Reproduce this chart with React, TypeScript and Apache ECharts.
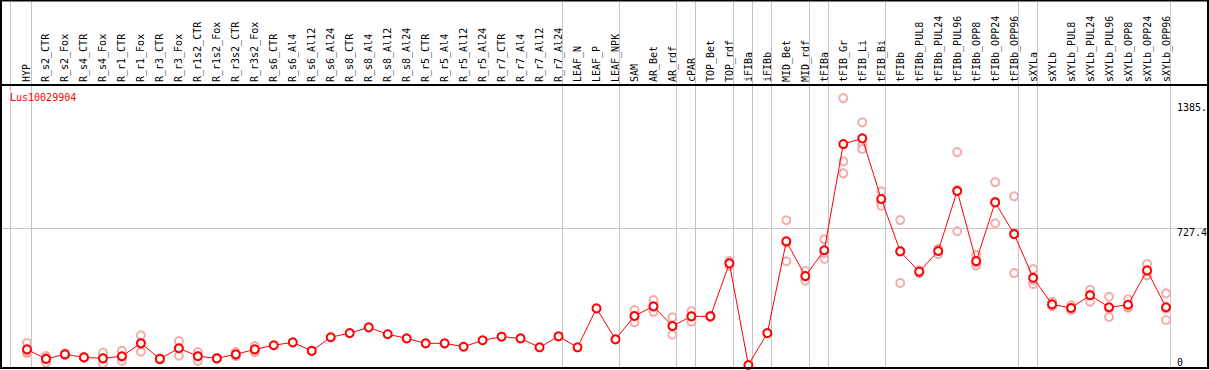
import React, { useEffect, useRef } from "react";
import * as echarts from "echarts";

const categories = [
  "HYP", "R_s2_CTR", "R_s2_Fox", "R_s4_CTR", "R_s4_Fox", "R_r1_CTR", "R_r1_Fox", "R_r3_CTR", "R_r3_Fox",
  "R_r1s2_CTR", "R_r1s2_Fox", "R_r3s2_CTR", "R_r3s2_Fox", "R_s6_CTR", "R_s6_Al4", "R_s6_Al12", "R_s6_Al24",
  "R_s8_CTR", "R_s8_Al4", "R_s8_Al12", "R_s8_Al24", "R_r5_CTR", "R_r5_Al4", "R_r5_Al12", "R_r5_Al24",
  "R_r7_CTR", "R_r7_Al4", "R_r7_Al12", "R_r7_Al24", "LEAF_N", "LEAF_P", "LEAF_NPK", "SAM", "AR_Bet", "AR_rdf",
  "cPAR", "TOP_Bet", "TOP_rdf", "iFIBa", "iFIBb", "MID_Bet", "MID_rdf", "tFIBa", "tFIB_Gr", "tFIB_Li", "tFIB_Bi",
  "tFIBb", "tFIBb_PUL8", "tFIBb_PUL24", "tFIBb_PUL96", "tFIBb_OPP8", "tFIBb_OPP24", "tFIBb_OPP96", "sXYLa",
  "sXYLb", "sXYLb_PUL8", "sXYLb_PUL24", "sXYLb_PUL96", "sXYLb_OPP8", "sXYLb_OPP24", "sXYLb_OPP96",
];

const means = [
  90, 40, 64, 48, 43, 54, 122, 40, 96, 54, 43, 64, 90, 112, 127, 82, 154, 176, 206, 170, 148, 122, 122, 104,
  138, 157, 148, 101, 159, 101, 306, 143, 266, 317, 213, 264, 264, 543, 8, 176, 659, 476, 612, 1171, 1201, 882,
  606, 499, 608, 924, 555, 864, 697, 467, 327, 308, 375, 312, 325, 506, 312,
];

const replicates: number[][] = [
  [124, 70, 78], [55, 20, 43], [60, 64, 69], [46, 48, 51], [73, 15, 42], [82, 29, 51], [164, 78, 124],
  [36, 40, 42], [134, 57, 96], [76, 29, 56], [41, 43, 45], [76, 55, 61], [108, 75, 89], [], [], [], [], [], [],
  [], [], [], [], [], [], [], [], [], [], [], [], [], [297, 233, 267], [350, 288, 312], [259, 167, 213],
  [292, 236, 265], [262, 264, 267], [555, 543, 531], [], [], [770, 554, 653], [503, 452, 475], [670, 567, 598],
  [1413, 1080, 1017], [1285, 1166, 1145], [922, 864, 846], [771, 440, 608], [508, 492, 497], [591, 613, 620],
  [1129, 712, 930], [587, 531, 549], [971, 754, 868], [896, 492, 704], [513, 434, 455], [340, 318, 324],
  [322, 296, 306], [404, 341, 379], [367, 261, 307], [354, 310, 313], [540, 480, 500], [385, 245, 305],
];

// separator positions in category-index units
const separators = [-0.86, 0.21, 28.21, 31.21, 34.21, 35.21, 37.21, 38.21, 39.21, 41.21, 42.21, 45.21, 52.21, 53.21, 60.21];
const yTicks = [
  { value: 0, label: "0", dy: -4 },
  { value: 727.4, label: "727.4", dy: 4 },
  { value: 1385, label: "1385.", dy: 4 },
];
const geneId = "Lus10029904";

const MONO = "'DejaVu Sans Mono', monospace";

export default function App() {
  const ref = useRef<HTMLDivElement>(null);
  useEffect(() => {
    document.body.style.margin = "0";
    const chart = echarts.init(ref.current!, null, { renderer: "svg" });
    const repData: [number, number][] = [];
    replicates.forEach((arr, i) => arr.forEach((v) => repData.push([i, v])));
    chart.setOption({
      animation: false,
      title: {
        text: geneId,
        left: 8,
        top: 90,
        padding: 2,
        textStyle: { color: "#ff0000", fontSize: 10, fontFamily: MONO, fontWeight: "normal" },
      },
      grid: { left: 17.5, right: 33.5, top: 85, bottom: 3.5 },
      xAxis: [
        {
          type: "category",
          data: categories,
          position: "top",
          boundaryGap: true,
          axisLine: { show: false },
          axisTick: { show: false },
          splitLine: { show: false },
          axisLabel: {
            interval: 0,
            rotate: 90,
            margin: 3,
            color: "#000",
            fontSize: 10,
            fontFamily: MONO,
          },
        },
        { type: "value", min: -0.5, max: 60.5, show: false, splitLine: { show: false } },
      ],
      yAxis: {
        type: "value",
        min: 0,
        max: 1482,
        show: false,
        splitLine: { show: false },
      },
      series: [
        {
          type: "line",
          xAxisIndex: 1,
          data: [],
          silent: true,
          markLine: {
            silent: true,
            symbol: ["none", "none"],
            label: { show: false },
            lineStyle: { color: "#c4c4c4", type: "solid", width: 1 },
            emphasis: { disabled: true },
            data: [
              ...separators.map((v) => [
                { xAxis: v, y: 0 },
                { xAxis: v, y: 368 },
              ]),
            ],
          },
        },
        {
          type: "line",
          data: [],
          silent: true,
          markLine: {
            silent: true,
            symbol: ["none", "none"],
            label: { show: false },
            lineStyle: { color: "#c4c4c4", type: "solid", width: 1 },
            emphasis: { disabled: true },
            data: [[{ x: 1, yAxis: 727.4 }, { x: 1207, yAxis: 727.4 }]],
          },
          markPoint: {
            silent: true,
            symbol: "circle",
            symbolSize: 0,
            data: yTicks.map((t) => ({
              x: 1177,
              yAxis: t.value,
              label: {
                show: true,
                position: "right",
                distance: 0,
                offset: [0, t.dy],
                formatter: t.label,
                color: "#000",
                fontSize: 10,
                fontFamily: MONO,
              },
            })),
          },
        },
        {
          type: "scatter",
          data: repData,
          symbol: "emptyCircle",
          symbolSize: 8,
          itemStyle: { color: "#f09898", borderWidth: 1 },
          silent: true,
          z: 3,
        },
        {
          type: "line",
          data: means,
          symbol: "emptyCircle",
          symbolSize: 8,
          showAllSymbol: true,
          itemStyle: { color: "#ff0000", borderWidth: 1.5 },
          lineStyle: { color: "#ff0000", width: 1 },
          silent: true,
          z: 5,
        },
      ],
      graphic: [
        {
          type: "rect",
          z: 100,
          silent: true,
          shape: { x: 1, y: 0.5, width: 1207, height: 367.5 },
          style: { fill: "none", stroke: "#000", lineWidth: 2 },
        },
        {
          type: "line",
          z: 100,
          silent: true,
          shape: { x1: 0, y1: 85, x2: 1208, y2: 85 },
          style: { stroke: "#000", lineWidth: 2 },
        },
      ],
    });
    return () => chart.dispose();
  }, []);
  return <div ref={ref} style={{ width: 1209, height: 370 }} />;
}
